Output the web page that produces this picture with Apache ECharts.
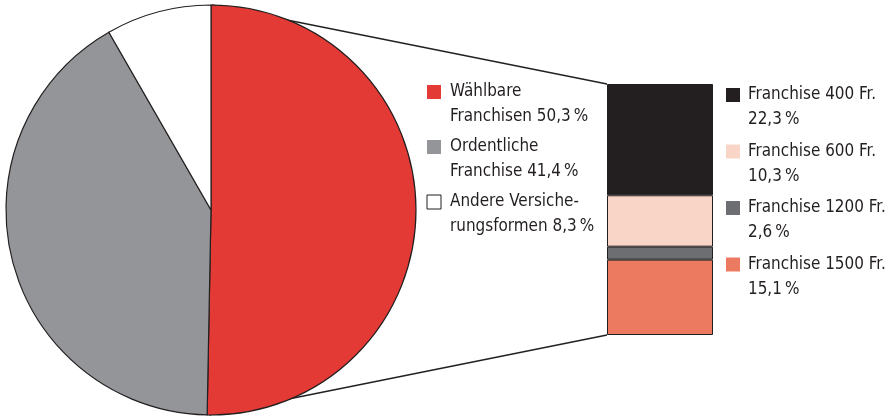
<!DOCTYPE html>
<html>
<head>
<meta charset="utf-8">
<script src="https://cdn.jsdelivr.net/npm/echarts@6/dist/echarts.min.js"></script>
<style>
  html, body { margin: 0; padding: 0; background: #fff; }
  #chart { width: 888px; height: 416px; }
</style>
</head>
<body>
<div id="chart"></div>
<script>
// pie: main split
const pieNames = ["Wählbare Franchisen", "Ordentliche Franchise", "Andere Versicherungsformen"];
const pieValues = [50.3, 41.4, 8.3];
const pieColors = ["#E43A35", "#939598", "#FFFFFF"];
const pieLegend = ["Wählbare\nFranchisen 50,3\u2009%", "Ordentliche\nFranchise 41,4\u2009%", "Andere Versiche-\nrungsformen 8,3\u2009%"];

// stacked bar: breakdown of the electable deductibles
const barNames = ["Franchise 400 Fr.", "Franchise 600 Fr.", "Franchise 1200 Fr.", "Franchise 1500 Fr."];
const barValues = [22.3, 10.3, 2.6, 15.1];
const barColors = ["#231F20", "#F9D5C8", "#6D6E71", "#EC7A61"];
const barLegend = ["Franchise 400 Fr.\n22,3\u2009%", "Franchise 600 Fr.\n10,3\u2009%", "Franchise 1200 Fr.\n2,6\u2009%", "Franchise 1500 Fr.\n15,1\u2009%"];

const chart = echarts.init(document.getElementById("chart"));

const cx = 211, cy = 210, r = 205;
const bar = { left: 607, top: 84, width: 106, height: 251 };
const font = "18px 'DejaVu Sans Condensed', 'Noto Sans', sans-serif";
const textColor = "#231F20";

const graphics = [
  { type: "line", shape: { x1: cx + 1, y1: cy - r, x2: bar.left, y2: bar.top }, style: { stroke: "#231F20", lineWidth: 1.3 }, z: 0 },
  { type: "line", shape: { x1: cx - 2, y1: cy + r, x2: bar.left, y2: bar.top + bar.height }, style: { stroke: "#231F20", lineWidth: 1.3 }, z: 0 }
];

pieLegend.forEach((txt, i) => {
  const y = 85 + i * 55;
  graphics.push({ type: "rect", shape: { x: 427, y: y, width: 14, height: 14 },
    style: { fill: pieColors[i], stroke: i === 2 ? "#231F20" : null, lineWidth: 1 } });
  graphics.push({ type: "text", x: 450, y: y - 6, scaleX: 0.94,
    style: { text: txt, font: font, fill: textColor, lineHeight: 25, verticalAlign: "top" } });
});

barLegend.forEach((txt, i) => {
  const y = 88 + i * 56.5;
  graphics.push({ type: "rect", shape: { x: 726, y: y, width: 14, height: 14 }, style: { fill: barColors[i] } });
  graphics.push({ type: "text", x: 748, y: y - 6, scaleX: 0.94,
    style: { text: txt, font: font, fill: textColor, lineHeight: 25, verticalAlign: "top" } });
});

const option = {
  backgroundColor: "#fff",
  animation: false,
  grid: { left: bar.left, top: bar.top, width: bar.width, height: bar.height },
  xAxis: { type: "category", data: [""], show: false },
  yAxis: { type: "value", min: 0, max: 50.3, inverse: true, show: false },
  series: [
    {
      type: "pie",
      center: [cx, cy],
      radius: r,
      startAngle: 90,
      clockwise: true,
      label: { show: false },
      labelLine: { show: false },
      emphasis: { disabled: true },
      itemStyle: { borderColor: "#231F20", borderWidth: 1.2 },
      data: pieNames.map((n, i) => ({ name: n, value: pieValues[i], itemStyle: { color: pieColors[i] } })),
      z: 2
    },
    ...barNames.map((n, i) => ({
      type: "bar",
      name: n,
      stack: "f",
      barWidth: "100%",
      data: [barValues[i]],
      itemStyle: { color: barColors[i], borderColor: "#231F20", borderWidth: 1 }
    }))
  ],
  graphic: graphics
};

chart.setOption(option);
</script>
</body>
</html>
